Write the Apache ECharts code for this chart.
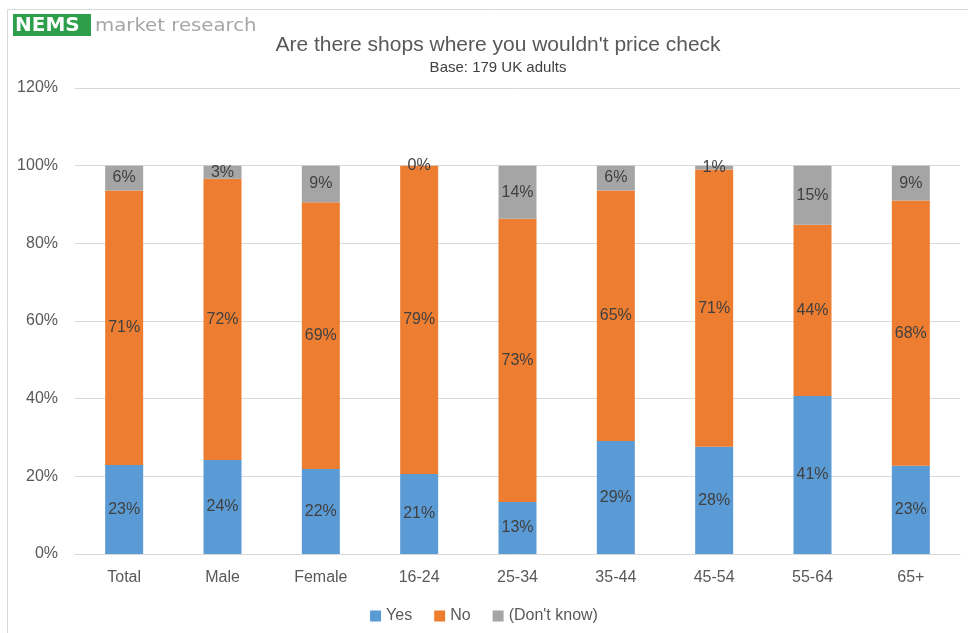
<!DOCTYPE html>
<html><head><meta charset="utf-8">
<script src="https://cdn.jsdelivr.net/npm/echarts@6/dist/echarts.min.js"></script>
<style>html,body{margin:0;padding:0;background:#fff}#c{width:968px;height:633px}</style>
</head><body><div id="c"></div>
<script>
const categories = ['Total','Male','Female','16-24','25-34','35-44','45-54','55-64','65+'];
const yesValues = [22.9, 24.2, 21.9, 20.6, 13.4, 29.1, 27.6, 40.7, 22.7];
const noValues = [70.7, 72.4, 68.7, 79.4, 72.9, 64.5, 71.4, 44.1, 68.3];
const dkValues = [6.4, 3.4, 9.4, 0.0, 13.7, 6.4, 1.0, 15.2, 9.0];
const yTicks = [0, 20, 40, 60, 80, 100, 120];

const FONT = '"Liberation Sans", sans-serif';
const chart = echarts.init(document.getElementById('c'));
function lbl() {
  return { show: true, position: 'inside', color: '#404040', fontSize: 16, fontFamily: FONT,
    formatter: p => Math.round(p.value) + '%' };
}
chart.setOption({
  animation: false,
  graphic: [
    { type: 'rect', shape: { x: 7.5, y: 9.5, width: 980, height: 640 }, style: { fill: 'none', stroke: '#d9d9d9', lineWidth: 1 }, silent: true },
    { type: 'rect', shape: { x: 13, y: 14, width: 78, height: 22 }, style: { fill: '#2e9e4a' } },
    { type: 'text', x: 15, y: 16, style: { text: 'NEMS', fill: '#fff', font: 'bold 20px "DejaVu Sans", sans-serif' } },
    { type: 'text', x: 95, y: 18, scaleX: 1.16, style: { text: 'market research', fill: '#a6a6a6', font: '17px "DejaVu Sans", sans-serif' } }
  ],
  title: {
    text: "Are there shops where you wouldn't price check",
    subtext: 'Base: 179 UK adults',
    left: 493, textAlign: 'center', top: 30, itemGap: 4,
    textStyle: { fontFamily: FONT, fontSize: 21, fontWeight: 'normal', color: '#595959' },
    subtextStyle: { fontFamily: FONT, fontSize: 15, color: '#404040' }
  },
  legend: {
    bottom: 4, left: 'center', itemWidth: 11, itemHeight: 11, itemGap: 22,
    icon: 'rect',
    textStyle: { fontFamily: FONT, fontSize: 16, color: '#595959' },
    data: ['Yes', 'No', "(Don't know)"]
  },
  grid: { left: 75, right: 8, top: 88, bottom: 79 },
  xAxis: {
    type: 'category', data: categories,
    axisLine: { lineStyle: { color: '#d9d9d9' } },
    axisTick: { show: false },
    axisLabel: { color: '#595959', fontSize: 16, fontFamily: FONT, margin: 16 }
  },
  yAxis: {
    type: 'value', min: 0, max: 120, interval: 20,
    axisLine: { show: false }, axisTick: { show: false },
    splitLine: { lineStyle: { color: '#d9d9d9' } },
    axisLabel: { color: '#595959', fontSize: 16, fontFamily: FONT, margin: 17,
      formatter: v => yTicks.includes(v) ? v + '%' : '' }
  },
  series: [
    { name: 'Yes', type: 'bar', stack: 's', data: yesValues, barWidth: 38, itemStyle: { color: '#5b9bd5' }, label: lbl() },
    { name: 'No', type: 'bar', stack: 's', data: noValues, barWidth: 38, itemStyle: { color: '#ed7d31' }, label: lbl() },
    { name: "(Don't know)", type: 'bar', stack: 's', data: dkValues, barWidth: 38, itemStyle: { color: '#a5a5a5' }, label: lbl() }
  ]
});
</script></body></html>
